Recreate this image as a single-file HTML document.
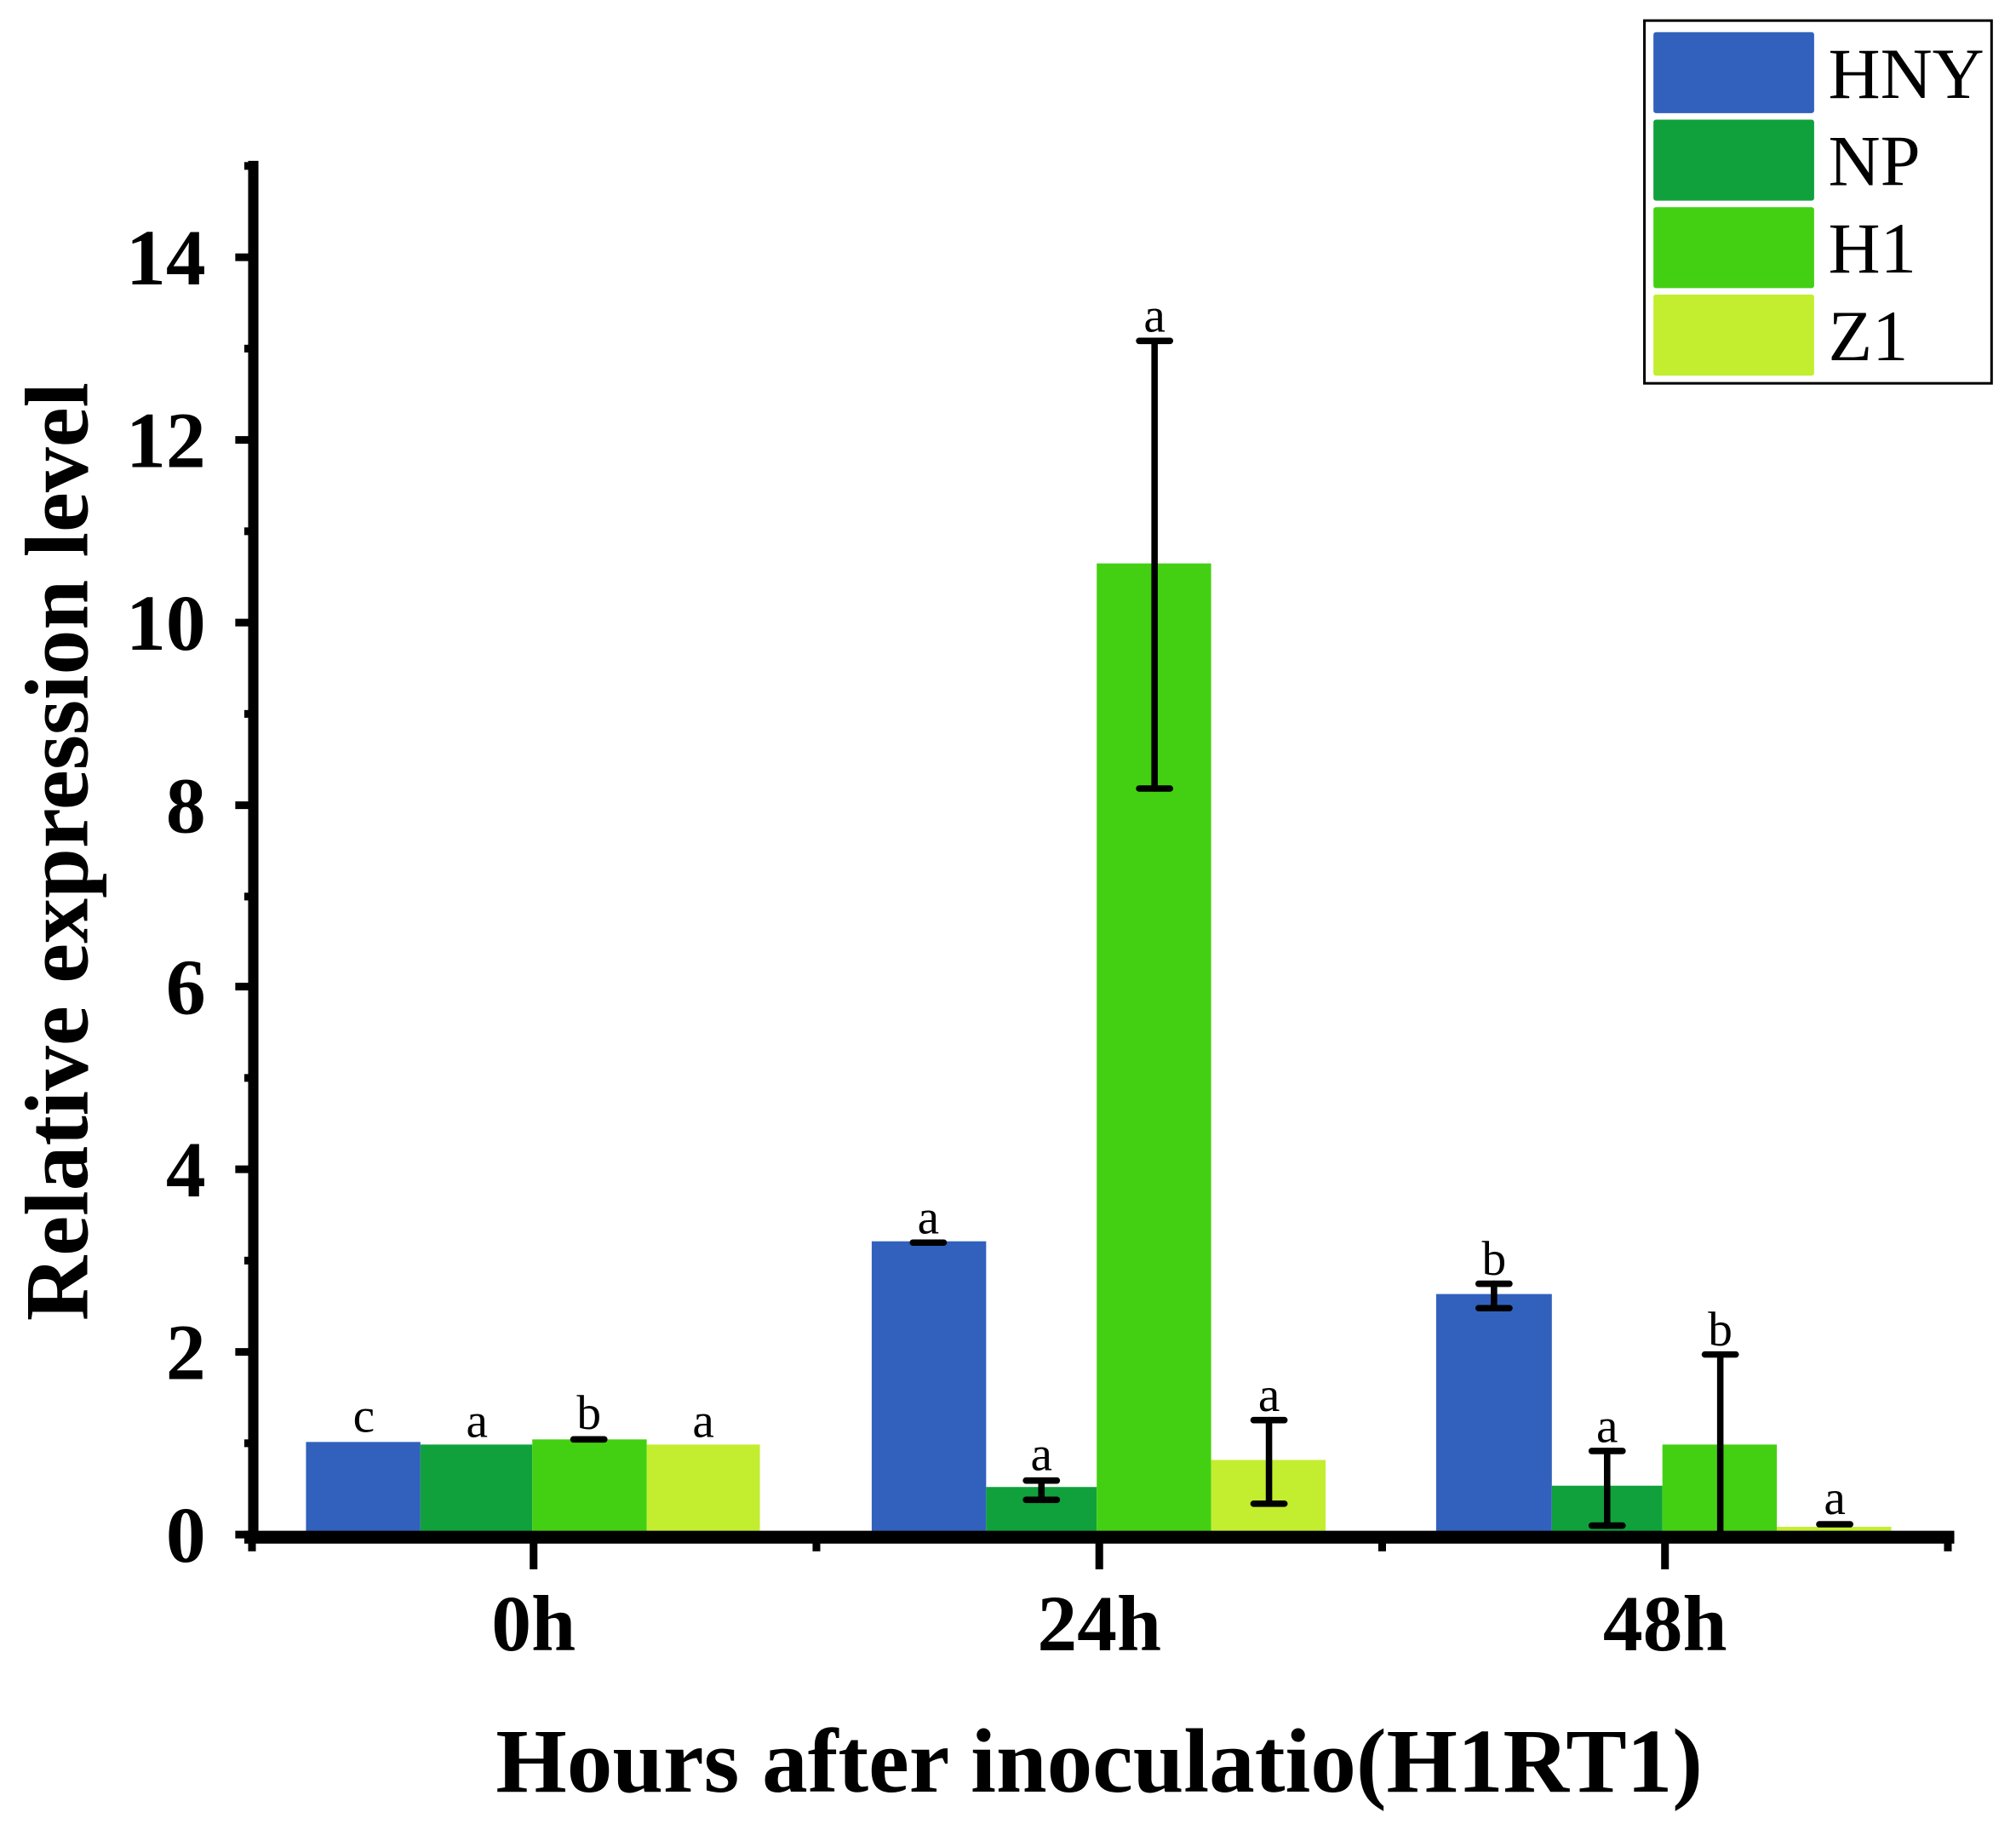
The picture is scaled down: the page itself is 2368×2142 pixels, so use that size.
<!DOCTYPE html>
<html><head><meta charset="utf-8"><style>
html,body{margin:0;padding:0;background:#fff;}
svg{display:block;}
text{font-family:"Liberation Serif","Times New Roman",serif;fill:#000;}
</style></head><body>
<svg width="2368" height="2142" viewBox="0 0 1568 1418" preserveAspectRatio="none" xmlns="http://www.w3.org/2000/svg">
<rect width="1568" height="1418" fill="#fff"/>
<g>
<rect x="238" y="1121" width="89" height="72" fill="#3161bc"/>
<rect x="327" y="1123" width="87" height="70" fill="#10a13c"/>
<rect x="414" y="1119" width="89" height="74" fill="#44d012"/>
<rect x="503" y="1123" width="88" height="70" fill="#c2ee2f"/>
<rect x="678" y="965" width="89" height="228" fill="#3161bc"/>
<rect x="767" y="1156" width="86" height="37" fill="#10a13c"/>
<rect x="853" y="438" width="89" height="755" fill="#44d012"/>
<rect x="942" y="1135" width="89" height="58" fill="#c2ee2f"/>
<rect x="1117" y="1006" width="90" height="187" fill="#3161bc"/>
<rect x="1207" y="1155" width="86" height="38" fill="#10a13c"/>
<rect x="1293" y="1123" width="89" height="70" fill="#44d012"/>
<rect x="1382" y="1187" width="89" height="6" fill="#c2ee2f"/>
</g>
<g stroke="#000" stroke-width="5" stroke-linecap="round" fill="none">
<line x1="446" y1="1119" x2="470" y2="1119"/>
<line x1="710" y1="966" x2="734" y2="966"/>
<line x1="810" y1="1151" x2="810" y2="1166"/><line x1="798" y1="1151" x2="822" y2="1151"/><line x1="798" y1="1166" x2="822" y2="1166"/>
<line x1="898" y1="265" x2="898" y2="613"/><line x1="886" y1="265" x2="910" y2="265"/><line x1="886" y1="613" x2="910" y2="613"/>
<line x1="987" y1="1104" x2="987" y2="1169"/><line x1="975" y1="1104" x2="999" y2="1104"/><line x1="975" y1="1169" x2="999" y2="1169"/>
<line x1="1162" y1="998" x2="1162" y2="1017"/><line x1="1150" y1="998" x2="1174" y2="998"/><line x1="1150" y1="1017" x2="1174" y2="1017"/>
<line x1="1250" y1="1128" x2="1250" y2="1186"/><line x1="1238" y1="1128" x2="1262" y2="1128"/><line x1="1238" y1="1186" x2="1262" y2="1186"/>
<line x1="1338" y1="1053" x2="1338" y2="1193"/><line x1="1326" y1="1053" x2="1350" y2="1053"/>
<line x1="1415" y1="1185" x2="1439" y2="1185"/>
</g>
<g font-size="38" text-anchor="middle">
<text x="283" y="1113">c</text>
<text x="371" y="1117">a</text>
<text x="458" y="1111">b</text>
<text x="547" y="1117">a</text>
<text x="722" y="959">a</text>
<text x="810" y="1143">a</text>
<text x="898" y="258">a</text>
<text x="987" y="1097">a</text>
<text x="1162" y="991">b</text>
<text x="1250" y="1121">a</text>
<text x="1338" y="1046">b</text>
<text x="1427" y="1177">a</text>
</g>
<g stroke="#000" fill="none">
<line x1="197" y1="125" x2="197" y2="1197" stroke-width="8"/>
<line x1="190" y1="1195" x2="1520" y2="1195" stroke-width="10"/>
<g stroke-width="6">
<line x1="183" y1="1193" x2="197" y2="1193"/>
<line x1="183" y1="1051" x2="197" y2="1051"/>
<line x1="183" y1="909" x2="197" y2="909"/>
<line x1="183" y1="767" x2="197" y2="767"/>
<line x1="183" y1="626" x2="197" y2="626"/>
<line x1="183" y1="484" x2="197" y2="484"/>
<line x1="183" y1="342" x2="197" y2="342"/>
<line x1="183" y1="200" x2="197" y2="200"/>
<line x1="190" y1="1122" x2="197" y2="1122"/>
<line x1="190" y1="980" x2="197" y2="980"/>
<line x1="190" y1="838" x2="197" y2="838"/>
<line x1="190" y1="697" x2="197" y2="697"/>
<line x1="190" y1="555" x2="197" y2="555"/>
<line x1="190" y1="413" x2="197" y2="413"/>
<line x1="190" y1="271" x2="197" y2="271"/>
<line x1="190" y1="129" x2="197" y2="129"/>
<line x1="415" y1="1193" x2="415" y2="1220"/>
<line x1="855" y1="1193" x2="855" y2="1220"/>
<line x1="1295" y1="1193" x2="1295" y2="1220"/>
<line x1="196" y1="1193" x2="196" y2="1206"/>
<line x1="635" y1="1193" x2="635" y2="1206"/>
<line x1="1075" y1="1193" x2="1075" y2="1206"/>
<line x1="1515" y1="1193" x2="1515" y2="1206"/>
</g>
</g>
<g font-size="62" font-weight="bold" text-anchor="end">
<text x="160" y="1214">0</text>
<text x="160" y="1072">2</text>
<text x="160" y="930">4</text>
<text x="160" y="788">6</text>
<text x="160" y="647">8</text>
<text x="160" y="505">10</text>
<text x="160" y="363">12</text>
<text x="160" y="221">14</text>
</g>
<g font-size="62" font-weight="bold" text-anchor="middle">
<text x="415" y="1283">0h</text>
<text x="855" y="1283">24h</text>
<text x="1295" y="1283">48h</text>
</g>
<text x="855" y="1393" font-size="71" font-weight="bold" text-anchor="middle">Hours after inoculatio(H1RT1)</text>
<text transform="translate(68,662) rotate(-90)" font-size="70" font-weight="bold" text-anchor="middle">Relative expression level</text>
<rect x="1279" y="16" width="270" height="282" fill="#fff" stroke="#000" stroke-width="2"/>
<rect x="1286" y="25" width="125" height="63" rx="2" fill="#3161bc"/>
<rect x="1286" y="93" width="125" height="63" rx="2" fill="#10a13c"/>
<rect x="1286" y="161" width="125" height="63" rx="2" fill="#44d012"/>
<rect x="1286" y="229" width="125" height="63" rx="2" fill="#c2ee2f"/>
<g font-size="56">
<text x="1422" y="76">HNY</text>
<text x="1422" y="144">NP</text>
<text x="1422" y="212">H1</text>
<text x="1422" y="280">Z1</text>
</g>
</svg>
</body></html>
